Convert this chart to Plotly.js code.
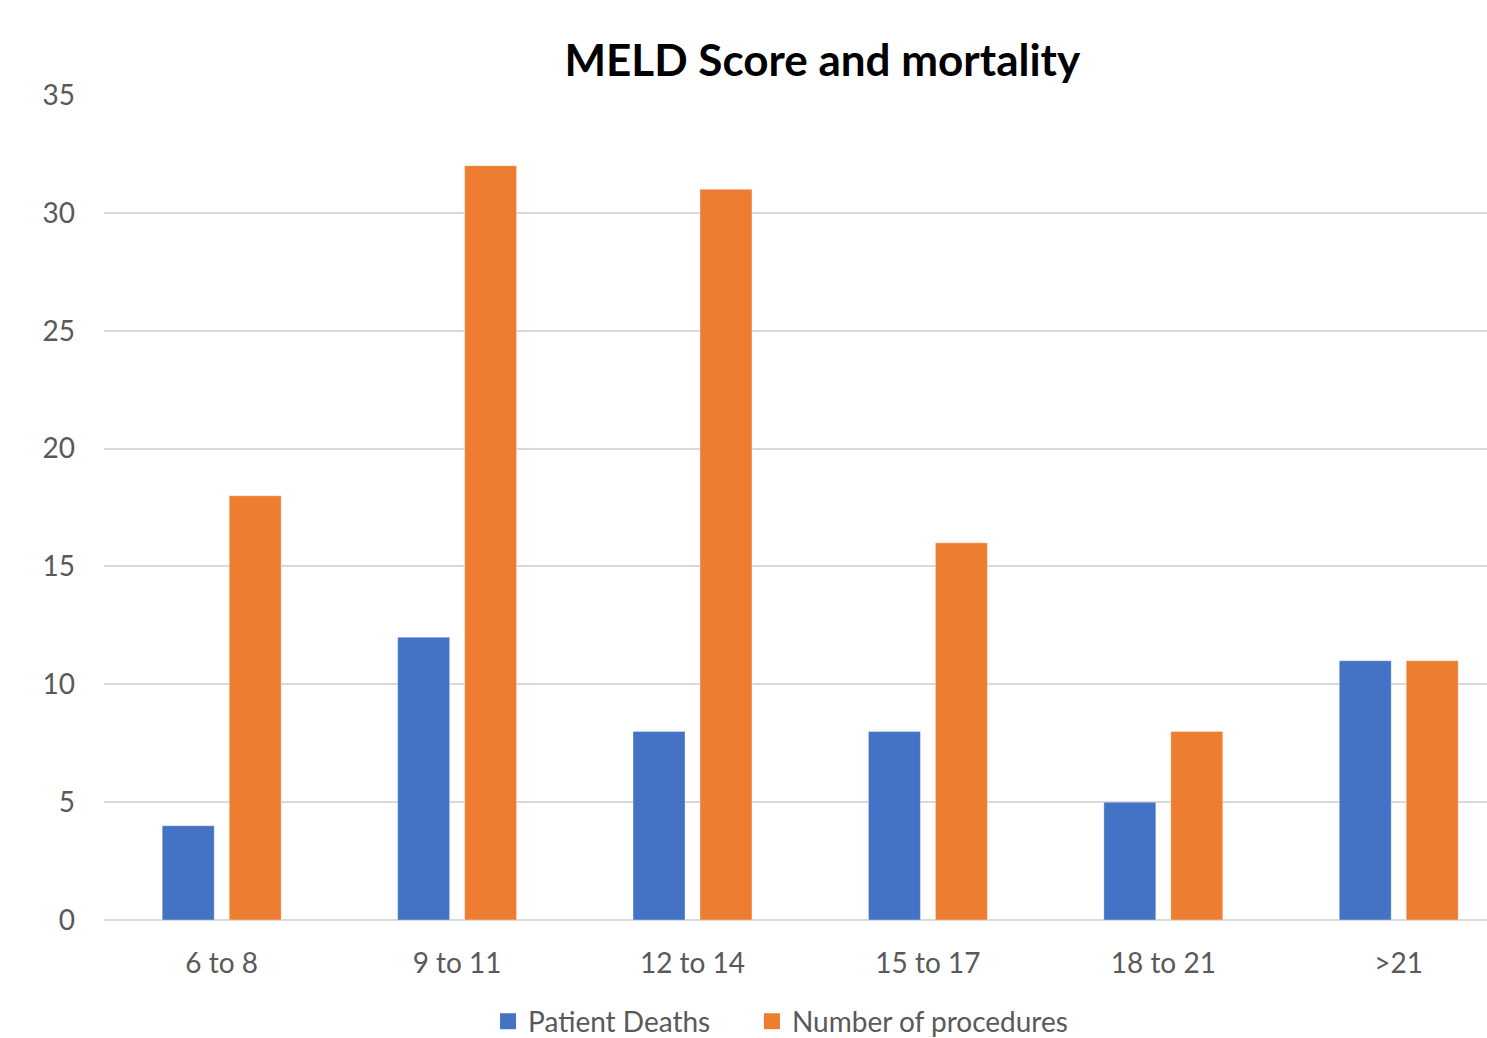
<!DOCTYPE html>
<html>
<head>
<meta charset="utf-8">
<script src="https://cdn.plot.ly/plotly-3.0.1.min.js"></script>
<style>html,body{margin:0;padding:0;background:#fff;}#chart{width:1487px;height:1038px;}</style>
</head>
<body>
<div id="chart"></div>
<script>
const categories = ["6 to 8", "9 to 11", "12 to 14", "15 to 17", "18 to 21", ">21"];
const patientDeaths = [4, 12, 8, 8, 5, 11];
const numberOfProcedures = [18, 32, 31, 16, 8, 11];
const yTicks = [0, 5, 10, 15, 20, 25, 30, 35];
const seriesNames = ["Patient Deaths", "Number of procedures"];
const seriesColors = ["#4472C4", "#ED7D31"];

const font = "Lato, 'Open Sans', sans-serif";

const traces = [
  {type: "bar", name: seriesNames[0], x: categories, y: patientDeaths, showlegend: false,
   marker: {color: seriesColors[0], line: {color: "rgba(255,255,255,0.35)", width: 1}}},
  {type: "bar", name: seriesNames[1], x: categories, y: numberOfProcedures, showlegend: false,
   marker: {color: seriesColors[1], line: {color: "rgba(255,255,255,0.35)", width: 1}}},
  // legend entries with square swatches
  {type: "scatter", mode: "markers", name: seriesNames[0], x: [categories[0]], y: [null], legend: "legend",
   marker: {symbol: "square", size: 18, color: seriesColors[0]}, hoverinfo: "skip"},
  {type: "scatter", mode: "markers", name: seriesNames[1], x: [categories[0]], y: [null], legend: "legend2",
   marker: {symbol: "square", size: 18, color: seriesColors[1]}, hoverinfo: "skip"}
];

const legendBase = {orientation: "h", xref: "paper", xanchor: "left", y: -0.123, yanchor: "middle",
                    font: {size: 28, color: "#595959"}, itemwidth: 30, bgcolor: "rgba(0,0,0,0)"};

const layout = {
  width: 1487, height: 1038,
  margin: {l: 104, r: 0, t: 95, b: 118, autoexpand: false},
  paper_bgcolor: "#fff", plot_bgcolor: "#fff",
  font: {family: font, color: "#595959", size: 28},
  title: {text: "<b>MELD Score and mortality</b>", font: {family: font, size: 44, color: "#000"},
          xref: "container", x: 0.553, xanchor: "center", yref: "container", y: 0.942, yanchor: "middle"},
  barmode: "group", bargap: 0.431, bargroupgap: 0.224,
  xaxis: {type: "category", range: [-0.5, 5.375], showgrid: false, zeroline: false, automargin: false,
          showline: false, ticks: "", ticklabelstandoff: 24, tickfont: {size: 28, color: "#595959"}},
  yaxis: {range: [0, 35], tickvals: yTicks, ticktext: yTicks.map(String), showgrid: true, automargin: false,
          gridcolor: "#D9D9D9", gridwidth: 2, zeroline: true, zerolinecolor: "#D9D9D9", zerolinewidth: 2,
          showline: false, ticks: "", ticklabelstandoff: 28, tickfont: {size: 28, color: "#595959"}},
  showlegend: true,
  legend: Object.assign({}, legendBase, {x: 0.2777}),
  legend2: Object.assign({}, legendBase, {x: 0.4685})
};

Plotly.newPlot("chart", traces, layout, {displayModeBar: false, staticPlot: true});
</script>
</body>
</html>
